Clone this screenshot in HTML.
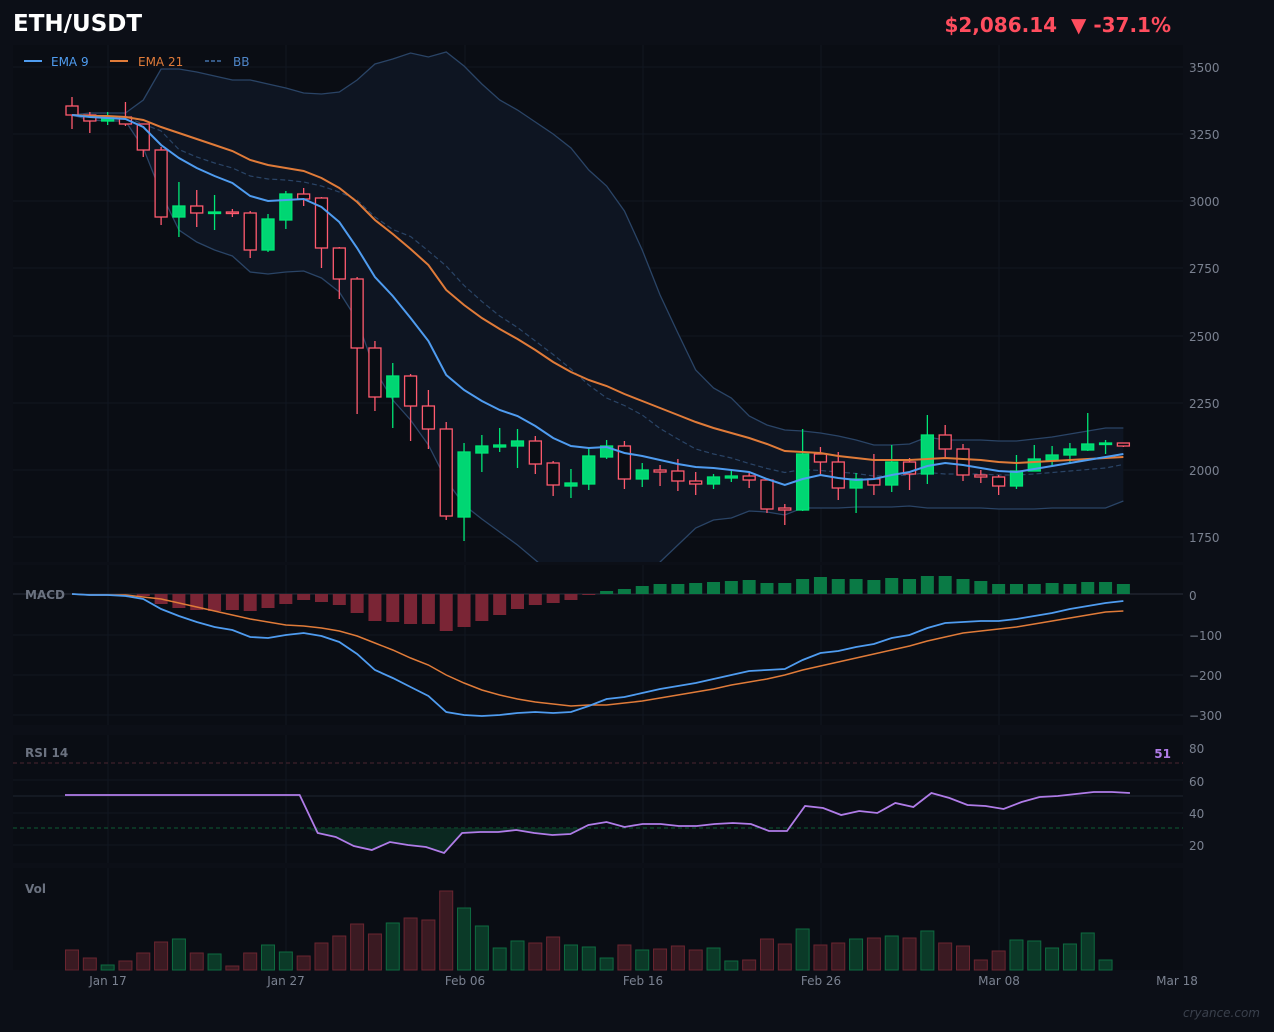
<!DOCTYPE html>
<html><head><meta charset="utf-8"><style>
html,body{margin:0;padding:0;background:#0c0f17;}
svg{display:block;font-family:"DejaVu Sans","Liberation Sans",sans-serif;}
</style></head><body>
<svg id="s" width="1274" height="1032" viewBox="0 0 1274 1032" xmlns="http://www.w3.org/2000/svg">
<rect width="1274" height="1032" fill="#0c0f17"/>
<rect x="13" y="45" width="1170" height="517" fill="#0a0d14"/>
<rect x="13" y="565" width="1170" height="160" fill="#0a0d14"/>
<rect x="13" y="735" width="1170" height="128" fill="#0a0d14"/>
<rect x="13" y="868" width="1170" height="102" fill="#0a0d14"/>
<g id="grid" stroke="#111621" stroke-width="1"></g>
<g id="band"></g>
<g id="main"></g>
<g id="macd"></g>
<g id="rsi"></g>
<g id="vol"></g>
<text x="13" y="31" fill="#ffffff" font-size="23" font-weight="bold">ETH/USDT</text>
<text x="1171" y="32" fill="#ff4d5e" font-size="20" font-weight="bold" text-anchor="end" xml:space="preserve">$2,086.14 &#160;▼ -37.1%</text>
<line x1="24" y1="61" x2="42" y2="61" stroke="#4f9cf0" stroke-width="2"/>
<text x="51" y="66" fill="#4f9cf0" font-size="12">EMA 9</text>
<line x1="110" y1="61" x2="128" y2="61" stroke="#e07b39" stroke-width="2"/>
<text x="138" y="66" fill="#e07b39" font-size="12">EMA 21</text>
<line x1="205" y1="61" x2="223" y2="61" stroke="#4f86c8" stroke-width="1.2" stroke-dasharray="4,2"/>
<text x="233" y="66" fill="#4f86c8" font-size="12">BB</text>
<g fill="#7a8190" font-size="12">
<text x="1189" y="72">3500</text><text x="1189" y="139">3250</text><text x="1189" y="206">3000</text>
<text x="1189" y="273">2750</text><text x="1189" y="341">2500</text><text x="1189" y="408">2250</text>
<text x="1189" y="475">2000</text><text x="1189" y="542">1750</text>
<text x="1189" y="600">0</text><text x="1189" y="640">−100</text><text x="1189" y="680">−200</text><text x="1189" y="720">−300</text>
<text x="1189" y="753">80</text><text x="1189" y="786">60</text><text x="1189" y="818">40</text><text x="1189" y="850">20</text>
<text x="108" y="985" text-anchor="middle">Jan 17</text><text x="286" y="985" text-anchor="middle">Jan 27</text>
<text x="465" y="985" text-anchor="middle">Feb 06</text><text x="643" y="985" text-anchor="middle">Feb 16</text>
<text x="821" y="985" text-anchor="middle">Feb 26</text><text x="999" y="985" text-anchor="middle">Mar 08</text>
<text x="1177" y="985" text-anchor="middle">Mar 18</text>
</g>
<g fill="#6b7280" font-size="12" font-weight="bold">
<text x="25" y="599">MACD</text><text x="25" y="757">RSI 14</text><text x="25" y="893">Vol</text>
</g>
<text x="1171" y="758" fill="#b07ce8" font-size="12" font-weight="bold" text-anchor="end">51</text>
<text x="1260" y="1017" fill="#3a404c" font-size="12" font-style="italic" text-anchor="end">cryance.com</text>
</svg>
<script>
const NS="http://www.w3.org/2000/svg";
function el(p,t,a){const e=document.createElementNS(NS,t);for(const k in a)e.setAttribute(k,a[k]);document.getElementById(p).appendChild(e);return e;}
const X=i=>72+17.82*i;
[108,286,465,643,821,999].forEach(x=>{[[45,562],[565,725],[735,863],[868,970]].forEach(r=>el('grid','line',{x1:x,x2:x,y1:r[0],y2:r[1]}));});
[67,134,201,268,336,403,470,537,635,675,715,780,813,845].forEach(y=>el('grid','line',{x1:13,x2:1183,y1:y,y2:y}));
el('grid','line',{x1:13,x2:1183,y1:594,y2:594,stroke:'#2a303c'});
el('grid','line',{x1:13,x2:1183,y1:796,y2:796,stroke:'#1f2530'});
el('grid','line',{x1:13,x2:1183,y1:763,y2:763,stroke:'#4a2530','stroke-dasharray':'4,3'});
el('grid','line',{x1:13,x2:1183,y1:828,y2:828,stroke:'#0f5a35','stroke-dasharray':'4,3'});
const up=[115,113,113,113,100,69,69,72,76,80,80,84,88,93,94,92,80,64,59,53,57,52,66,84,100,110,122,134,148,170,186,211,250,295,333,370,388,398,416,425,430,431,433,436,440,445,445,444,437,440,440,440,441,441,439,437,434,431,428,428];
const lo=[115,120,121,121,148,193,230,242,250,256,272,274,272,271,278,292,320,370,400,420,445,480,505,519,532,545,560,575,590,600,610,600,580,562,545,528,520,518,511,512,515,508,508,508,507,507,507,506,508,508,508,508,509,509,509,508,508,508,508,501];
let dup=up.map((y,i)=>`${X(i)},${y}`), dlo=lo.map((y,i)=>`${X(i)},${y}`).reverse();
const cp=el('band','clipPath',{id:'cm'});const cr=document.createElementNS(NS,'rect');cr.setAttribute('x',13);cr.setAttribute('y',45);cr.setAttribute('width',1170);cr.setAttribute('height',517);cp.appendChild(cr);
const g=el('band','g',{'clip-path':'url(#cm)'});g.id='bg';
el('bg','polygon',{points:dup.concat(dlo).join(' '),fill:'#0e1522'});
el('bg','polyline',{points:dup.join(' '),fill:'none',stroke:'#2a4466','stroke-width':1.3});
el('bg','polyline',{points:lo.map((y,i)=>`${X(i)},${y}`).join(' '),fill:'none',stroke:'#2a4466','stroke-width':1.3});
el('bg','polyline',{points:up.map((y,i)=>`${X(i)},${(y+lo[i])/2}`).join(' '),fill:'none',stroke:'#2a4466','stroke-width':1.2,'stroke-dasharray':'5,3'});
const C=[[106,115,97,129,0],[115,121,112,133,0],[117,121,112,125,1],[117,124,102,126,0],[124,150,124,157,0],[150,217,147,225,0],[206,217,182,237,1],[206,213,190,227,0],[212,213,195,230,1],[212,213,209,217,0],[213,250,211,258,0],[219,250,214,252,1],[194,220,191,229,1],[194,199,188,206,0],[198,248,197,268,0],[248,279,247,299,0],[279,348,277,414,0],[348,397,341,411,0],[376,397,363,428,1],[376,406,374,441,0],[406,429,390,449,0],[429,516,422,520,0],[452,517,443,541,1],[446,453,435,472,1],[445,447,428,452,1],[441,446,429,468,1],[441,464,436,474,0],[463,485,461,496,0],[483,486,469,498,1],[456,484,449,490,1],[446,457,440,459,1],[446,479,441,489,0],[470,479,463,487,1],[470,472,465,486,0],[471,481,459,491,0],[481,484,472,495,0],[477,484,474,489,1],[476,478,471,482,1],[476,480,473,488,0],[480,509,480,513,0],[508,510,504,525,0],[454,510,429,511,1],[454,462,447,476,0],[462,488,452,500,0],[479,488,473,513,1],[479,485,454,495,0],[462,485,445,492,1],[462,474,458,490,0],[435,474,415,484,1],[435,449,425,458,0],[449,475,444,481,0],[475,477,470,483,0],[477,486,475,495,0],[471,486,455,489,1],[459,471,445,467,1],[455,460,446,466,1],[449,455,443,464,1],[444,450,413,451,1],[443,444,440,454,1],[443,446,443,447,0]];
const ema9=[115,117,118,119,127,145,158,168,176,183,196,201,200,199,207,222,248,277,296,318,341,375,390,401,410,416,426,438,446,448,447,453,456,460,464,467,468,470,472,479,485,479,475,478,480,479,475,472,466,463,465,468,471,472,469,466,463,460,457,454];
const ema21=[115,116,116,117,120,127,133,139,145,151,160,165,168,171,178,188,202,220,234,249,265,290,305,318,329,339,350,362,372,380,386,394,401,408,415,422,428,433,438,444,451,452,453,456,458,460,460,460,459,458,459,460,462,463,462,461,460,459,458,457];
C.forEach((c,i)=>{const x=X(i),col=c[4]?'#00e676':'#ff5a6e';
el('main','line',{x1:x,x2:x,y1:c[2],y2:c[3],stroke:col,'stroke-width':1.3});
el('main','rect',{x:x-6,y:c[0],width:12,height:Math.max(c[1]-c[0],1.5),fill:c[4]?'#00d673':'#0a0d14',stroke:col,'stroke-width':1.3});});
el('main','polyline',{points:ema21.map((y,i)=>`${X(i)},${y}`).join(' '),fill:'none',stroke:'#e07b39','stroke-width':2});
el('main','polyline',{points:ema9.map((y,i)=>`${X(i)},${y}`).join(' '),fill:'none',stroke:'#4f9cf0','stroke-width':2});
const H=[0,0,0,0,-2,-10,-14,-16,-17,-16,-17,-14,-10,-6,-8,-11,-19,-27,-28,-30,-30,-37,-33,-27,-21,-15,-11,-9,-6,-1,3,5,8,10,10,11,12,13,14,11,11,15,17,15,15,14,16,15,18,18,15,13,10,10,10,11,10,12,12,10];
H.forEach((h,i)=>{if(!h)return;const x=X(i);el('macd','rect',{x:x-6.5,y:h>0?594-h:594,width:13,height:Math.abs(h),fill:h>0?'#0a7a45':'#7a2535'});});
const ml=[594,595,595,596,599,609,616,622,627,630,637,638,635,633,636,642,654,670,678,687,696,712,715,716,715,713,712,713,712,706,699,697,693,689,686,683,679,675,671,670,669,660,653,651,647,644,638,635,628,623,622,621,621,619,616,613,609,606,603,601];
const sl=[594,595,595,595,597,599,603,607,611,615,619,622,625,626,628,631,636,643,650,658,665,675,683,690,695,699,702,704,706,705,705,703,701,698,695,692,689,685,682,679,675,670,666,662,658,654,650,646,641,637,633,631,629,627,624,621,618,615,612,611];
el('macd','polyline',{points:sl.map((y,i)=>`${X(i)},${y}`).join(' '),fill:'none',stroke:'#e07b39','stroke-width':1.5});
el('macd','polyline',{points:ml.map((y,i)=>`${X(i)},${y}`).join(' '),fill:'none',stroke:'#4f9cf0','stroke-width':1.8});
const R=[795,795,795,795,795,795,795,795,795,795,795,795,795,795,833,837,846,850,842,845,847,853,833,832,832,830,833,835,834,825,822,827,824,824,826,826,824,823,824,831,831,806,808,815,811,813,803,807,793,798,805,806,809,802,797,796,794,792,792,793];
const RX=i=>65+18.05*i;
let fp=[];for(let i=13;i<=29;i++){fp.push(`${RX(i)},${Math.max(R[i],828)}`);}
el('rsi','polygon',{points:`${RX(13)+6},828 `+fp.slice(1).join(' ')+` ${RX(29)},828`,fill:'#0b3a28',opacity:0.6});
el('rsi','polyline',{points:R.map((y,i)=>`${RX(i)},${y}`).join(' '),fill:'none',stroke:'#b07ce8','stroke-width':1.8});
const V=[[950,0],[958,0],[965,1],[961,0],[953,0],[942,0],[939,1],[953,0],[954,1],[966,0],[953,0],[945,1],[952,1],[956,0],[943,0],[936,0],[924,0],[934,0],[923,1],[918,0],[920,0],[891,0],[908,1],[926,1],[948,1],[941,1],[943,0],[937,0],[945,1],[947,1],[958,1],[945,0],[950,1],[949,0],[946,0],[950,0],[948,1],[961,1],[960,0],[939,0],[944,0],[929,1],[945,0],[943,0],[939,1],[938,0],[936,1],[938,0],[931,1],[943,0],[946,0],[960,0],[951,0],[940,1],[941,1],[948,1],[944,1],[933,1],[960,1]];
V.forEach((v,i)=>{const x=X(i);el('vol','rect',{x:x-6.5,y:v[0],width:13,height:970-v[0],fill:v[1]?'#0b3a28':'#3a1a22',stroke:v[1]?'#0e6b40':'#6b2530','stroke-width':1});});
</script>
</body></html>
